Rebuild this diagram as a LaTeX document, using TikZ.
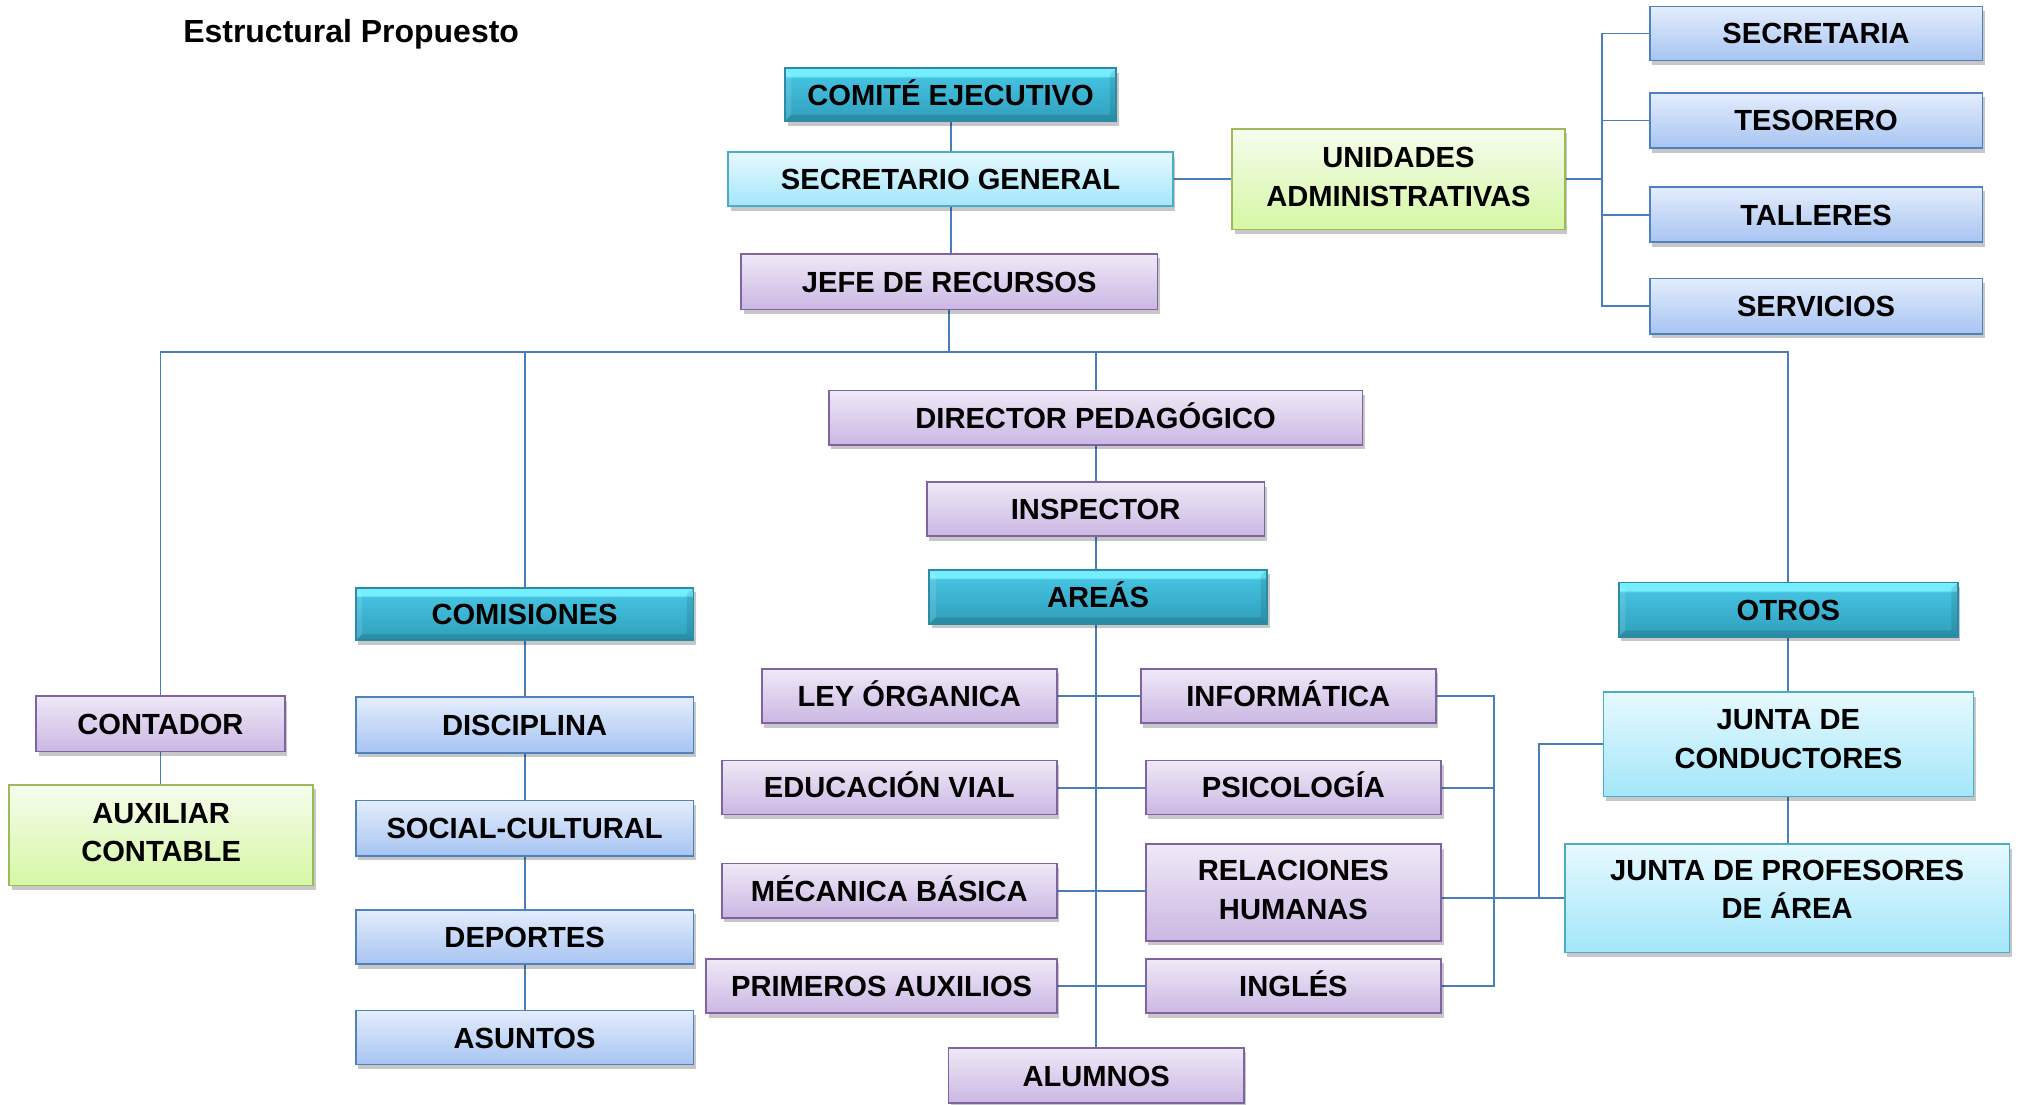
\documentclass[tikz,border=0pt]{standalone}
\usepackage{fontspec}
\setmainfont{Liberation Sans}
\usetikzlibrary{shadows}
\definecolor{tA}{HTML}{24849E}
\definecolor{tB}{HTML}{30A0BD}
\definecolor{tC}{HTML}{44C1DF}
\definecolor{tD}{HTML}{74EEFC}
\definecolor{tBorder}{HTML}{2C8CA6}
\definecolor{pTop}{HTML}{EFE9F7}
\definecolor{pBot}{HTML}{CBB7E3}
\definecolor{pBorder}{HTML}{8064A2}
\definecolor{bTop}{HTML}{E4EDFC}
\definecolor{bBot}{HTML}{A7C4F2}
\definecolor{bBorder}{HTML}{4F81BD}
\definecolor{cTop}{HTML}{E7F9FE}
\definecolor{cBot}{HTML}{A3E6FA}
\definecolor{cBorder}{HTML}{4BACC6}
\definecolor{gTop}{HTML}{F6FCEE}
\definecolor{gBot}{HTML}{D5F7A4}
\definecolor{gBorder}{HTML}{9BBB59}
\definecolor{lineBlue}{HTML}{4A7EBB}
\pgfdeclareverticalshading{tealsh}{100bp}{color(0bp)=(tA); color(25bp)=(tA); color(27bp)=(tB); color(66bp)=(tC); color(68bp)=(tD); color(75bp)=(tD); color(100bp)=(tD)}
\pgfdeclarelayer{background}
\pgfsetlayers{background,main}
\tikzset{
  box/.style={rectangle, inner sep=0pt, align=center,
    font=\fontsize{22.6}{30}\selectfont\bfseries, line width=1.3pt,
    text height=16.2pt, text depth=0pt,
    drop shadow={shadow xshift=2pt, shadow yshift=-3.5pt, opacity=0.22, fill=black}},
  two/.style={text height={}, text depth=#1pt},
  wh/.style 2 args={minimum width=#1pt, minimum height=#2pt},
  tealbox/.style={box, shading=tealsh, draw=tBorder,
    path picture={
      \fill[white, opacity=0.12] (path picture bounding box.north west) -- (path picture bounding box.south west)
        -- ([xshift=5pt,yshift=5pt]path picture bounding box.south west) -- ([xshift=5pt,yshift=-5pt]path picture bounding box.north west) -- cycle;
      \fill[black, opacity=0.10] (path picture bounding box.north east) -- (path picture bounding box.south east)
        -- ([xshift=-5pt,yshift=5pt]path picture bounding box.south east) -- ([xshift=-5pt,yshift=-5pt]path picture bounding box.north east) -- cycle;
      \fill[black, opacity=0.12] (path picture bounding box.south west) -- (path picture bounding box.south east)
        -- ([xshift=-5pt,yshift=5pt]path picture bounding box.south east) -- ([xshift=5pt,yshift=5pt]path picture bounding box.south west) -- cycle;
    }},
  pbox/.style={box, top color=pTop, bottom color=pBot, draw=pBorder},
  bbox/.style={box, top color=bTop, bottom color=bBot, draw=bBorder},
  cyanbox/.style={box, top color=cTop, bottom color=cBot, draw=cBorder},
  gbox/.style={box, top color=gTop, bottom color=gBot, draw=gBorder},
  conn/.style={draw=lineBlue, line width=1.5pt},
  titlestyle/.style={inner sep=0pt, anchor=base west, font=\fontsize{24.8}{29}\selectfont\bfseries}
}
\begin{document}
\begin{tikzpicture}[x=1pt, y=-1pt]
\useasboundingbox (0,0) rectangle (1568,857);
\node[titlestyle] (title) at (142,33) {Estructural Propuesto};

\node[tealbox, wh={257}{41}] (comite) at (737.5,73.5) {COMITÉ EJECUTIVO};
\node[cyanbox, wh={345}{42}] (secgen) at (737.5,139) {SECRETARIO GENERAL};
\node[pbox, wh={323}{43}] (jefe) at (736.5,218.5) {JEFE DE RECURSOS};
\node[gbox, two=4, wh={258}{78}] (unidades) at (1085,139) {UNIDADES\\ADMINISTRATIVAS};
\node[bbox, wh={258}{42}] (secretaria) at (1409,26) {SECRETARIA};
\node[bbox, wh={258}{43}] (tesorero) at (1409,93.5) {TESORERO};
\node[bbox, wh={258}{43}] (talleres) at (1409,166.5) {TALLERES};
\node[bbox, wh={258}{43}] (servicios) at (1409,237.5) {SERVICIOS};
\node[pbox, wh={414}{42}] (director) at (850,324) {DIRECTOR PEDAGÓGICO};
\node[pbox, wh={262}{42}] (inspector) at (850,395) {INSPECTOR};
\node[tealbox, wh={262}{42}] (areas) at (852,463) {AREÁS};
\node[tealbox, wh={262}{41}] (comisiones) at (407,476.5) {COMISIONES};
\node[tealbox, wh={263}{42}] (otros) at (1387.5,473) {OTROS};
\node[pbox, wh={193}{43}] (contador) at (124.5,561.5) {CONTADOR};
\node[gbox, two=4, wh={236}{78}] (auxiliar) at (125,648) {AUXILIAR\\CONTABLE};
\node[bbox, wh={262}{43}] (disciplina) at (407,562.5) {DISCIPLINA};
\node[bbox, wh={262}{43}] (social) at (407,642.5) {SOCIAL-CULTURAL};
\node[bbox, wh={262}{42}] (deportes) at (407,727) {DEPORTES};
\node[bbox, wh={262}{42}] (asuntos) at (407,805) {ASUNTOS};
\node[pbox, wh={229}{42}] (ley) at (705.5,540) {LEY ÓRGANICA};
\node[pbox, wh={260}{42}] (educ) at (690,611) {EDUCACIÓN VIAL};
\node[pbox, wh={260}{42}] (mecanica) at (690,691) {MÉCANICA BÁSICA};
\node[pbox, wh={272}{42}] (primeros) at (684,765) {PRIMEROS AUXILIOS};
\node[pbox, wh={229}{42}] (informatica) at (999.5,540) {INFORMÁTICA};
\node[pbox, wh={229}{42}] (psicologia) at (1003.5,611) {PSICOLOGÍA};
\node[pbox, two=4, wh={229}{75}] (relaciones) at (1003.5,692.5) {RELACIONES\\HUMANAS};
\node[pbox, wh={229}{42}] (ingles) at (1003.5,765) {INGLÉS};
\node[pbox, wh={229}{43}] (alumnos) at (850.5,834.5) {ALUMNOS};
\node[cyanbox, two=8, wh={287}{81}] (jcond) at (1387.5,577.5) {JUNTA DE\\CONDUCTORES};
\node[cyanbox, two=14, wh={345}{84}] (jprof) at (1386.5,697) {JUNTA DE PROFESORES\\DE ÁREA};

\coordinate (bus) at (737,273);
\coordinate (ub) at (1243,139);
\coordinate (rb) at (1159,540);
\coordinate (rb2) at (1194,577.5);

\begin{pgfonlayer}{background}
\draw[conn] (comite.south) -- (comite.south |- secgen.north);
\draw[conn] (secgen.south) -- (secgen.south |- jefe.north);
\draw[conn] (jefe.south) -- (jefe.south |- bus);
\draw[conn] (contador.north) |- (otros.north |- bus) -- (otros.north);
\draw[conn] (comisiones.north) -- (comisiones.north |- bus);
\draw[conn] (director.north) -- (director.north |- bus);
\draw[conn] (director.south) -- (director.south |- inspector.north);
\draw[conn] (inspector.south) -- (inspector.south |- areas.north);
\draw[conn] (alumnos.north |- areas.south) -- (alumnos.north);
\draw[conn] (ley.east) -- (informatica.west);
\draw[conn] (educ.east) -- (psicologia.west);
\draw[conn] (mecanica.east) -- (mecanica.east -| relaciones.west);
\draw[conn] (primeros.east) -- (ingles.west);
\draw[conn] (informatica.east) -- (rb) -- (rb |- ingles.east) -- (ingles.east);
\draw[conn] (psicologia.east) -- (psicologia.east -| rb);
\draw[conn] (relaciones.east |- jprof.west) -- (jprof.west);
\draw[conn] (jcond.west) -- (rb2) -- (rb2 |- jprof.west);
\draw[conn] (otros.south) -- (otros.south |- jcond.north);
\draw[conn] (jcond.south) -- (jcond.south |- jprof.north);
\draw[conn] (comisiones.south) -- (comisiones.south |- disciplina.north);
\draw[conn] (disciplina.south) -- (disciplina.south |- social.north);
\draw[conn] (social.south) -- (social.south |- deportes.north);
\draw[conn] (deportes.south) -- (deportes.south |- asuntos.north);
\draw[conn] (contador.south) -- (contador.south |- auxiliar.north);
\draw[conn] (secgen.east) -- (unidades.west);
\draw[conn] (unidades.east) -- (ub);
\draw[conn] (secretaria.west) -| (ub |- servicios.west) -- (servicios.west);
\draw[conn] (tesorero.west) -- (tesorero.west -| ub);
\draw[conn] (talleres.west) -- (talleres.west -| ub);
\end{pgfonlayer}
\end{tikzpicture}
\end{document}
